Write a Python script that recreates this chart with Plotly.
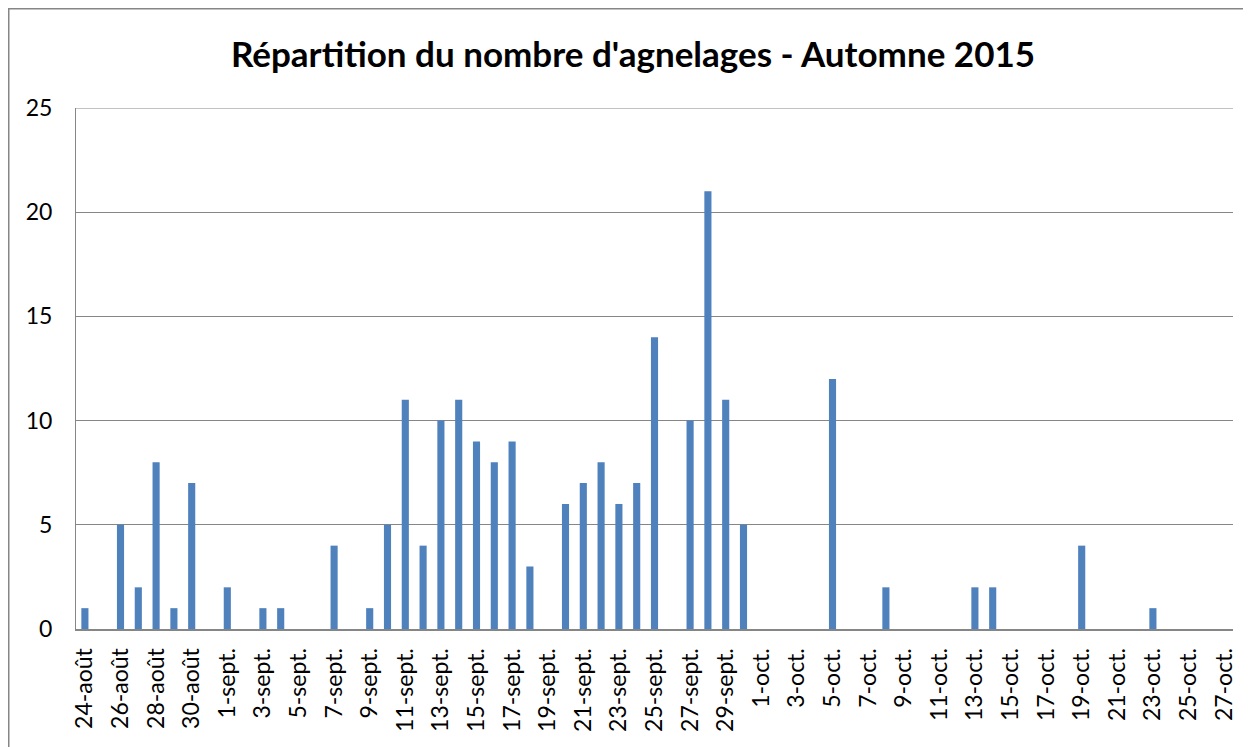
import plotly.graph_objects as go

# Daily categories, 24 Aug -> 27 Oct 2015
jours = ([f"{d}-août" for d in range(24, 32)]
         + [f"{d}-sept." for d in range(1, 31)]
         + [f"{d}-oct." for d in range(1, 28)])

agnelages_aout = [1, 0, 5, 2, 8, 1, 7, 0]
agnelages_sept = [2, 0, 1, 1, 0, 0, 4, 0, 1, 5,
                  11, 4, 10, 11, 9, 8, 9, 3, 0, 6,
                  7, 8, 6, 7, 14, 0, 10, 21, 11, 5]
agnelages_oct = [0, 0, 0, 0, 12, 0, 0, 2, 0, 0,
                 0, 0, 2, 2, 0, 0, 0, 0, 4, 0,
                 0, 0, 1, 0, 0, 0, 0]
agnelages = agnelages_aout + agnelages_sept + agnelages_oct

y_ticks = [0, 5, 10, 15, 20, 25]

fig = go.Figure()
fig.add_trace(go.Bar(
    x=jours,
    y=agnelages,
    marker=dict(color="#4F81BD", line=dict(width=0)),
    width=0.4,
    showlegend=False,
))

font_family = "Lato, 'Open Sans', sans-serif"
grid = "#868686"

# page body has an 8px margin, so the figure starts at (8, 8)
OFF = 8
W, H = 1251 - OFF, 747 - OFF
L, R, T, B = 76 - OFF, 18, 108 - OFF, 118
pw, ph = W - L - R, H - T - B

fig.update_layout(
    width=W,
    height=H,
    margin=dict(l=L, r=R, t=T, b=B, autoexpand=False),
    paper_bgcolor="white",
    plot_bgcolor="white",
    font=dict(family=font_family, size=22, color="black"),
    title=dict(
        text="<b>Répartition du nombre d'agnelages - Automne 2015</b>",
        x=(633 - OFF) / W, xanchor="center",
        y=1 - (55 - OFF) / H, yanchor="middle",
        font=dict(family=font_family, size=35, color="black"),
    ),
)

fig.update_xaxes(
    type="category",
    categoryorder="array",
    categoryarray=jours,
    tickmode="array",
    tickvals=jours[::2],
    ticktext=jours[::2],
    tickangle=-90,
    tickfont=dict(size=23),
    showgrid=False,
    showline=True,
    linecolor=grid,
    linewidth=2,
    ticks="",
    ticklabelstandoff=8,
    automargin=False,
)

fig.update_yaxes(
    range=[0, 25],
    tickvals=y_ticks,
    showgrid=True,
    gridcolor=grid,
    gridwidth=1,
    showline=True,
    linecolor=grid,
    linewidth=1,
    zeroline=False,
    ticks="",
    ticklabelstandoff=18,
    tickfont=dict(size=23),
    automargin=False,
)

# top gridline at the end of the value axis
fig.add_hline(y=y_ticks[-1], line=dict(color=grid, width=1))

# outer chart border (Excel frame)
fig.add_shape(
    type="rect", xref="paper", yref="paper",
    x0=-L / pw, x1=1.1, y0=-1.2, y1=1 + T / ph,
    line=dict(color="#868686", width=3),
    fillcolor="rgba(0,0,0,0)",
    layer="below",
)

fig.write_html("out.html")
